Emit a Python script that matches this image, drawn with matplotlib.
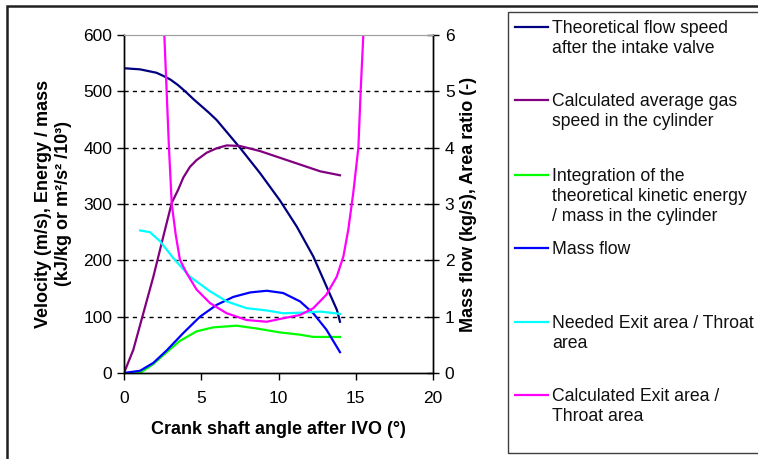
# intake flow chart: speeds / energy on the left axis, mass flow and area ratios on the right
# numbers

import matplotlib
matplotlib.use("Agg")
import matplotlib.pyplot as plt
from matplotlib.patches import Rectangle
from matplotlib.lines import Line2D

plt.rcParams['font.family'] = ['Liberation Sans', 'DejaVu Sans']

# theoretical flow speed after the intake valve (m/s)
x_theo = [0, 1.04, 2.1, 2.5, 3.0, 3.5, 4.0, 4.5, 5.0, 5.5, 6.0, 7.5, 8.8, 10.1, 11.18, 12.25, 13.1, 13.78, 13.98]
v_theo = [541, 539, 533, 528, 521, 511, 499, 486, 474, 462, 449, 400, 355, 306, 260, 207, 154, 112, 91]

# calculated average gas speed in the cylinder (m/s)
x_gas = [0, 0.6, 1.25, 1.9, 2.55, 3.09, 3.5, 3.84, 4.27, 4.7, 5.35, 6.0, 6.65, 7.5, 8.8, 10.1, 11.4, 12.7, 13.98]
v_gas = [0, 41, 106, 171, 243, 302, 325, 347, 366, 378, 391, 399, 404, 403, 394, 382, 370, 358, 351]

# integrated kinetic energy / mass (kJ/kg)
x_kin = [0, 1.04, 1.9, 2.76, 3.62, 4.7, 5.78, 7.29, 8.59, 10.1, 11.4, 12.25, 13.98]
e_kin = [0, 0, 16, 37, 57, 74, 81, 84, 79, 72, 68, 64, 64]

# mass flow (kg/s)  -> right axis
x_mass = [0, 1.04, 1.9, 2.76, 3.84, 4.92, 6.0, 7.07, 8.16, 9.24, 10.3, 11.4, 12.25, 13.1, 13.98]
m_flow = [0, 0.04, 0.18, 0.40, 0.71, 1.00, 1.21, 1.35, 1.43, 1.46, 1.42, 1.27, 1.06, 0.77, 0.37]

# needed exit area / throat area (-) -> right axis
x_need = [1.04, 1.68, 2.33, 3.19, 4.27, 5.57, 6.65, 7.94, 9.24, 10.3, 11.4, 12.7, 13.98]
a_need = [2.53, 2.50, 2.34, 2.04, 1.71, 1.45, 1.27, 1.15, 1.11, 1.06, 1.07, 1.09, 1.05]

# calculated exit area / throat area (-) -> right axis, runs off the top at both ends
x_calc = [2.55, 2.61, 2.76, 2.91, 3.09, 3.35, 3.62, 4.06, 4.7, 5.57, 6.65, 7.94, 9.24,
          10.1, 11.4, 12.25, 13.1, 13.77, 14.2, 14.52, 14.84, 15.17, 15.32, 15.49, 15.55]
a_calc = [6.6, 6.0, 5.0, 4.0, 3.0, 2.45, 2.01, 1.77, 1.48, 1.24, 1.06, 0.94, 0.91,
          0.96, 1.03, 1.15, 1.39, 1.71, 2.07, 2.55, 3.2, 4.0, 5.02, 6.0, 6.4]

labels = ["Theoretical flow speed\nafter the intake valve",
          "Calculated average gas\nspeed in the cylinder",
          "Integration of the\ntheoretical kinetic energy\n/ mass in the cylinder",
          "Mass flow",
          "Needed Exit area / Throat\narea",
          "Calculated Exit area /\nThroat area"]
colors = ["#000080", "#800080", "#00ff00", "#0000ff", "#00ffff", "#ff00ff"]

fig = plt.figure(figsize=(7.58, 4.59), dpi=100)
ax = fig.add_axes([124/758, 1-373/459, (433-124)/758, (373-35)/459])
ax2 = ax.twinx()

lw = 1.6
ax.plot(x_theo, v_theo, color=colors[0], lw=lw)
ax.plot(x_gas, v_gas, color=colors[1], lw=lw)
ax.plot(x_kin, e_kin, color=colors[2], lw=lw)
ax2.plot(x_mass, m_flow, color=colors[3], lw=lw)
ax2.plot(x_need, a_need, color=colors[4], lw=lw)
ax2.plot(x_calc, a_calc, color=colors[5], lw=lw)

ax.set_xlim(0, 20)
ax.set_ylim(0, 600)
ax2.set_ylim(0, 6)
ax.set_xticks([0, 5, 10, 15, 20])
ax.set_yticks(range(0, 601, 100))
ax2.set_yticks(range(0, 7))

# dashed grid lines, only the inner ones
for yy in range(100, 600, 100):
    ax.axhline(yy, color="black", lw=1.0, ls=(0, (3, 3)), zorder=0)

for a in (ax, ax2):
    a.spines['top'].set_color("#a0a0a0")
    a.spines['left'].set_linewidth(1.0)
    a.spines['right'].set_linewidth(1.0)
    a.spines['bottom'].set_linewidth(1.0)
ax.tick_params(axis='both', direction='out', length=5, width=1, labelsize=12.5, colors="black")
ax.tick_params(axis='x', pad=8)
ax2.tick_params(axis='y', direction='inout', length=9, width=1, labelsize=12.5, pad=4)

ax.set_xlabel("Crank shaft angle after IVO (°)", fontsize=13, fontweight='bold', labelpad=11)
ax.set_ylabel("Velocity (m/s), Energy / mass\n(kJ/kg or m²/s² /10³)", fontsize=13,
              fontweight='bold', labelpad=8)
ax2.set_ylabel("Mass flow (kg/s), Area ratio (-)", fontsize=13, fontweight='bold', labelpad=4)

# outer chart border, runs off the right and bottom
fig.patches.append(Rectangle((7/758, -0.1), 1.2, 1.1 - 6/459, transform=fig.transFigure,
                             fill=False, edgecolor="#202020", lw=1.8))

# legend drawn by hand so the handles line up with the first text line
lx0 = 508/758
fig.patches.append(Rectangle((lx0, 1-453/459), 1.0, (453-12)/459, transform=fig.transFigure,
                             fill=False, edgecolor="#404040", lw=1.0))
ys = [27, 100, 175, 248, 322, 395]
for lab, col, yp in zip(labels, colors, ys):
    yf = 1 - yp/459
    fig.lines.append(Line2D([515/758, 548/758], [yf, yf], transform=fig.transFigure,
                            color=col, lw=1.6))
    fig.text(552/758, yf + 7/459, lab, fontsize=12.7, va='top', ha='left',
             linespacing=1.22, color="#101010")

fig.savefig("out.png", dpi=100)
